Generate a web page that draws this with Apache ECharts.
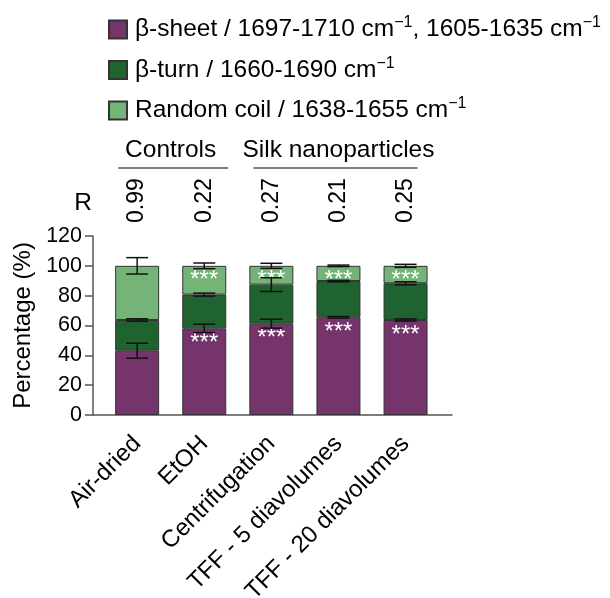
<!DOCTYPE html>
<html>
<head>
<meta charset="utf-8">
<script src="https://cdn.jsdelivr.net/npm/echarts@6/dist/echarts.min.js"></script>
<style>html,body{margin:0;padding:0;background:#fff}#c{width:610px;height:598px}</style>
</head>
<body>
<div id="c"></div>
<script>
// ---- data ----
var categories = ['Air-dried', 'EtOH', 'Centrifugation', 'TFF - 5 diavolumes', 'TFF - 20 diavolumes'];
var sheet = [43.1, 58.1, 61.2, 65.5, 63.7];
var turn = [20.6, 22.6, 26.2, 24.3, 24.6];
var coil = [36.3, 19.3, 12.6, 10.2, 11.7];
var sheetSD = [5.0, 2.8, 3.0, 0.5, 0.7];
var turnSD = [0.8, 1.0, 4.6, 0.5, 1.0];
var coilSD = [5.5, 1.9, 1.7, 0.5, 1.0];
var rValues = ['0.99', '0.22', '0.27', '0.21', '0.25'];
var sheetSig = ['', '***', '***', '***', '***'];
var coilSig = ['', '***', '***', '***', '***'];
var groupNames = ['Controls', 'Silk nanoparticles'];
var groupFrom = [0, 2];
var groupTo = [1, 4];
var seriesNames = ['β-sheet', 'β-turn', 'Random coil'];
var legendTexts = {
  'β-sheet': 'β-sheet / 1697-1710 cm{sup|−1}, 1605-1635 cm{sup|−1}',
  'β-turn': 'β-turn / 1660-1690 cm{sup|−1}',
  'Random coil': 'Random coil / 1638-1655 cm{sup|−1}'
};

// ---- style / layout ----
var FONT = '"Liberation Sans", Arial, sans-serif';
var colors = ['#76346c', '#1f6331', '#75b477'];
var groupLinePad = [[19, 24], [18, 12]]; // px beyond first/last bar centre

function cumul(a, b) { return a.map(function (v, i) { return v + b[i]; }); }
var topSheet = sheet.slice();
var topTurn = cumul(sheet, turn);
var topCoil = cumul(topTurn, coil);

function errSeries(tops, sds) {
  return {
    type: 'custom', xAxisIndex: 1, yAxisIndex: 1, z: 10,
    data: tops.map(function (t, i) { return [i, t, sds[i]]; }),
    renderItem: function (params, api) {
      var x = api.value(0), t = api.value(1), s = api.value(2);
      var hi = api.coord([x, t + s]);
      var lo = api.coord([x, t - s]);
      var w = 11;
      var st = {stroke: '#111', lineWidth: 1.5};
      return {type: 'group', children: [
        {type: 'line', shape: {x1: hi[0], y1: hi[1], x2: lo[0], y2: lo[1]}, style: st},
        {type: 'line', shape: {x1: hi[0] - w, y1: hi[1], x2: hi[0] + w, y2: hi[1]}, style: st},
        {type: 'line', shape: {x1: lo[0] - w, y1: lo[1], x2: lo[0] + w, y2: lo[1]}, style: st}
      ]};
    }
  };
}

function barSeries(idx, vals, sig) {
  return {
    name: seriesNames[idx], type: 'bar', stack: 'a', xAxisIndex: 1, yAxisIndex: 1,
    barWidth: 44,
    itemStyle: {color: colors[idx], borderColor: '#333', borderWidth: 1},
    data: vals.map(function (v, i) {
      var d = {value: v};
      if (sig && sig[i]) {
        d.label = {show: true, position: 'insideTop', distance: 3, formatter: sig[i],
          color: '#fff', fontSize: 24, fontFamily: FONT};
      }
      return d;
    })
  };
}

var chart = echarts.init(document.getElementById('c'), null, {renderer: 'canvas'});
var option = {
  animation: false,
  backgroundColor: '#fff',
  textStyle: {fontFamily: FONT, color: '#000'},
  legend: {
    orient: 'vertical', left: 103, top: 10,
    itemWidth: 18, itemHeight: 18, itemGap: 13.5,
    icon: 'rect',
    data: seriesNames,
    formatter: function (n) { return legendTexts[n]; },
    textStyle: {
      fontFamily: FONT, fontSize: 24.5, color: '#000', lineHeight: 19, padding: [0, 0, 0, 3],
      rich: {sup: {fontSize: 16, fontFamily: FONT, color: '#000', padding: [0, 0, 13, 0]}}
    },
    selectedMode: false
  },
  grid: [
    {left: 93, right: 158, top: 236, bottom: 183, containLabel: false, outerBoundsMode: 'none'},
    {left: 103.6, right: 170.9, top: 236, bottom: 183, containLabel: false, outerBoundsMode: 'none'}
  ],
  xAxis: [
    {gridIndex: 0, type: 'value', min: 0, max: 1,
      axisLine: {show: true, lineStyle: {color: '#555', width: 1.5}},
      axisTick: {show: false}, axisLabel: {show: false}, splitLine: {show: false}},
    {gridIndex: 1, type: 'category', data: categories, position: 'bottom',
      axisLine: {show: false}, axisTick: {show: false},
      axisLabel: {rotate: 45, fontSize: 24, color: '#000', fontFamily: FONT, margin: 25, interval: 0}},
    {gridIndex: 1, type: 'category', data: rValues, position: 'top',
      axisLine: {show: false}, axisTick: {show: false},
      axisLabel: {rotate: -90, fontSize: 23, color: '#000', fontFamily: FONT, margin: 13, interval: 0}}
  ],
  yAxis: [
    {gridIndex: 0, type: 'value', min: 0, max: 120, interval: 20,
      axisLine: {show: true, lineStyle: {color: '#555', width: 1.5}},
      axisTick: {show: true, length: 8, lineStyle: {color: '#555', width: 1.5}},
      axisLabel: {fontSize: 21.5, color: '#000', fontFamily: FONT, margin: 11},
      splitLine: {show: false},
      name: 'Percentage (%)', nameLocation: 'middle', nameGap: 55,
      nameTextStyle: {fontSize: 24, color: '#000', fontFamily: FONT}},
    {gridIndex: 1, type: 'value', min: 0, max: 120, show: false, splitLine: {show: false}}
  ],
  series: [
    barSeries(0, sheet, sheetSig),
    barSeries(1, turn, null),
    barSeries(2, coil, coilSig),
    errSeries(topSheet, sheetSD),
    errSeries(topTurn, turnSD),
    errSeries(topCoil, coilSD)
  ]
};
chart.setOption(option);

// annotations positioned from the category axis
var g = [];
groupNames.forEach(function (name, k) {
  var a = chart.convertToPixel({xAxisIndex: 1}, groupFrom[k]);
  var b = chart.convertToPixel({xAxisIndex: 1}, groupTo[k]);
  var cx = (a + b) / 2;
  g.push({type: 'text', x: cx, y: 150, style: {text: name, fontSize: 24.5, fontFamily: FONT, fill: '#000', align: 'center', verticalAlign: 'middle'}});
  g.push({type: 'line', shape: {x1: a - groupLinePad[k][0], y1: 168, x2: b + groupLinePad[k][1], y2: 168}, style: {stroke: '#555', lineWidth: 1.5}});
});
g.push({type: 'text', x: 83, y: 203, style: {text: 'R', fontSize: 24.5, fontFamily: FONT, fill: '#000', align: 'center', verticalAlign: 'middle'}});
chart.setOption({graphic: g});
</script>
</body>
</html>
